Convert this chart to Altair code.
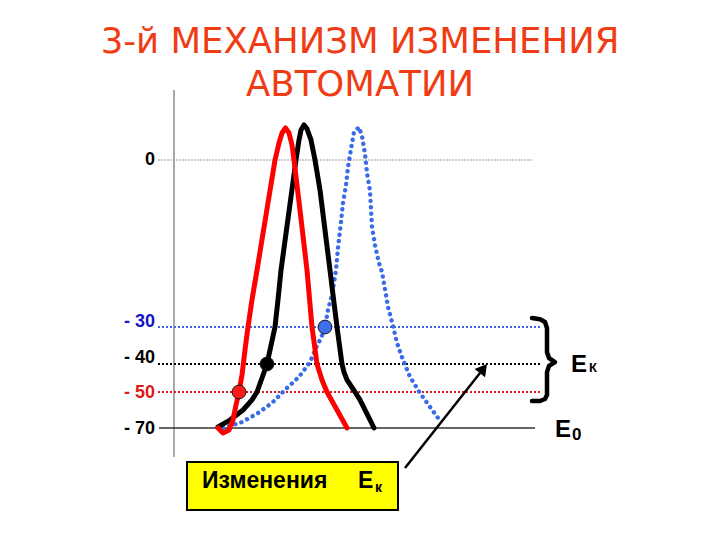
import altair as alt
import pandas as pd

# ---------------- data ----------------
title_lines = ["3-й МЕХАНИЗМ ИЗМЕНЕНИЯ", "АВТОМАТИИ"]

# membrane-potential levels (mV)
level_values = [0, -30, -40, -50, -70]
level_labels = ["0", "- 30", "- 40", "- 50", "- 70"]
level_label_mv = [0, -29.1, -38.4, -50.6, -70.6]
level_label_colors = ["#000000", "#1414c8", "#000000", "#e01a1a", "#000000"]
level_line_colors = ["#9a9a9a", "#3a64e0", "#000000", "#e01a1a", "#333333"]
level_line_start = [-16, -16, -16, -16, -15]
level_line_end = [359, 366, 366, 366, 361]

# red action potential (time units, mV)
red_t = [44, 49, 55, 59, 62, 65, 68, 71, 74, 78, 83, 92, 101, 105, 108, 111.5,
         115, 118, 120, 126, 133, 138, 143, 148, 153, 163, 173]
red_mv = [-70, -72.8, -71.1, -65.6, -57.2, -50, -43.9, -36.2, -30, -25.1, -19.8,
          -9.9, 0, 3.05, 4.85, 5.75, 4.85, 2.7, 0, -9.0, -19.8, -30, -40, -45.7,
          -50, -60, -70]

# black action potential
black_t = [44, 56, 69, 78, 83, 88, 93, 96, 101, 104, 107, 114.5, 122, 125, 127,
           130, 133, 137, 141, 146, 151, 156, 163, 168, 170, 173, 181, 186, 193, 200]
black_mv = [-69.4, -65.6, -60, -54.4, -50, -45, -40, -36.2, -30, -25.1, -19.8,
            -9.9, 0, 3.6, 5.4, 6.3, 5.6, 3.6, 0, -5.4, -12.6, -19.8, -30, -40,
            -42.9, -45.7, -50, -54.4, -62.2, -70]

# blue dotted action potential
blue_t = [49, 68, 84, 98, 112, 125, 136, 143, 147, 151, 154, 158, 162, 164, 167,
          169, 172, 174, 177, 180, 185, 188, 191, 193, 196, 197, 198, 201, 205,
          208, 211, 214, 219, 223, 229, 236, 246, 256, 267]
blue_mv = [-70, -66.7, -61.7, -56.1, -48.9, -44.6, -39.5, -35.1, -33.0, -30,
           -26.9, -24.2, -19.8, -15.8, -11.1, -7.7, -4.5, -1.3, 2.0, 5.0, 5.9,
           4.3, 1.1, -2.3, -5.6, -8.8, -12.0, -15.3, -18.5, -20.1, -23.2, -26.4,
           -29.8, -34.3, -38.9, -44.6, -50.6, -58.3, -66.7]

# threshold markers
marker_t = [65, 93, 151]
marker_mv = [-50, -40, -30]
marker_colors = ["#ff1a1a", "#000000", "#3f6fef"]

# brace spanning the threshold range
brace_t = [358, 366, 371, 373, 373, 375, 381, 375, 373, 373, 371, 366, 358]
brace_mv = [-28.4, -28.6, -29.1, -30.3, -36.8, -38.4, -39.5, -40.7, -42.9,
            -51.7, -53.9, -55.0, -55.0]

box_word = "Изменения"
box_e = "E"
box_sub = "к"

# ---------------- chart ----------------
xscale = alt.Scale(domain=[0, 360], range=[166, 526], nice=False, zero=False)
yscale = alt.Scale(domain=[-70, -50, -40, -30, 0], range=[420, 384, 356, 319, 152],
                   nice=False, zero=False)
X = alt.X("t:Q", scale=xscale, axis=None)
Y = alt.Y("mv:Q", scale=yscale, axis=None)

one = pd.DataFrame({"a": [0]})
layers = []

# vertical axis line
layers.append(alt.Chart(one).mark_rule(color="#8c8c8c", strokeWidth=1.5).encode(
    x=alt.value(166), y=alt.value(82), y2=alt.value(449)))

# level lines
dashes = [[2, 1], [2, 2], [2, 2], [2, 2], None]
widths = [1, 2, 2, 2, 1.3]
for i, v in enumerate(level_values):
    df = pd.DataFrame({"t": [level_line_start[i]], "t2": [level_line_end[i]], "mv": [v]})
    kw = dict(color=level_line_colors[i], strokeWidth=widths[i])
    if dashes[i] is not None:
        kw["strokeDash"] = dashes[i]
    layers.append(alt.Chart(df).mark_rule(**kw).encode(x=X, x2="t2:Q", y=Y))

# level labels
lab_df = pd.DataFrame({"mv": level_label_mv, "lab": level_labels, "c": level_label_colors})
layers.append(alt.Chart(lab_df).mark_text(
    align="right", baseline="middle", font="Liberation Sans", fontWeight="bold",
    fontSize=18).encode(x=alt.value(147), y=Y, text="lab:N",
                        color=alt.Color("c:N", scale=None)))

def curve(ts, mvs):
    return pd.DataFrame({"t": ts, "mv": mvs, "i": list(range(len(ts)))})

layers.append(alt.Chart(curve(blue_t, blue_mv)).mark_line(
    color="#3a6be8", strokeWidth=4.4, strokeDash=[0.1, 6.3], strokeCap="round"
).encode(x=X, y=Y, order="i:Q"))
layers.append(alt.Chart(curve(black_t, black_mv)).mark_line(
    color="#000000", strokeWidth=5, strokeCap="round", strokeJoin="round"
).encode(x=X, y=Y, order="i:Q"))
layers.append(alt.Chart(curve(red_t, red_mv)).mark_line(
    color="#ff0000", strokeWidth=5, strokeCap="round", strokeJoin="round"
).encode(x=X, y=Y, order="i:Q"))

# markers
mk = pd.DataFrame({"t": marker_t, "mv": marker_mv, "c": marker_colors})
layers.append(alt.Chart(mk).mark_circle(size=190, opacity=1, stroke="#111111",
                                        strokeWidth=1).encode(
    x=X, y=Y, fill=alt.Fill("c:N", scale=None)))

# brace
layers.append(alt.Chart(curve(brace_t, brace_mv)).mark_line(
    color="#000000", strokeWidth=4.5, strokeJoin="round", strokeCap="round"
).encode(x=X, y=Y, order="i:Q"))

# title
for txt, yy in zip(title_lines, [45, 88]):
    layers.append(alt.Chart(one).mark_text(
        font="DejaVu Sans", fontSize=35.5, color="#f03c14", align="center",
        baseline="alphabetic").encode(x=alt.value(352), y=alt.value(yy),
                                      text=alt.value(txt)))

# E_K and E_0
def label(txt, x, y, size):
    return alt.Chart(one).mark_text(
        font="Liberation Sans", fontWeight="bold", fontSize=size, color="#000000",
        align="left", baseline="alphabetic").encode(
        x=alt.value(x), y=alt.value(y), text=alt.value(txt))

layers.append(label("E", 563, 364, 24))
layers.append(label("К", 581, 364, 13))
layers.append(label("E", 547, 429, 24))
layers.append(label("0", 564, 432, 17))

# yellow box
layers.append(alt.Chart(one).mark_rect(fill="#ffff00", stroke="#000000",
                                       strokeWidth=2).encode(
    x=alt.value(179), x2=alt.value(390), y=alt.value(454), y2=alt.value(502)))
layers.append(label(box_word, 194, 480, 23))
layers.append(label(box_e, 350, 480, 23))
layers.append(label(box_sub, 367, 484, 14))

# arrow
layers.append(alt.Chart(one).mark_rule(color="#000000", strokeWidth=2.5).encode(
    x=alt.value(397), y=alt.value(460), x2=alt.value(472), y2=alt.value(365)))
layers.append(alt.Chart(one).mark_point(shape="triangle-up", filled=True, size=180,
                                        angle=38, color="#000000", opacity=1).encode(
    x=alt.value(475.4), y=alt.value(360.6)))

chart = alt.layer(*layers).properties(
    width=704, height=524, autosize=alt.AutoSizeParams(type="none"), padding=0
).configure_view(stroke=None)

chart.save("out.html", embed_options={"renderer": "svg", "actions": False})
